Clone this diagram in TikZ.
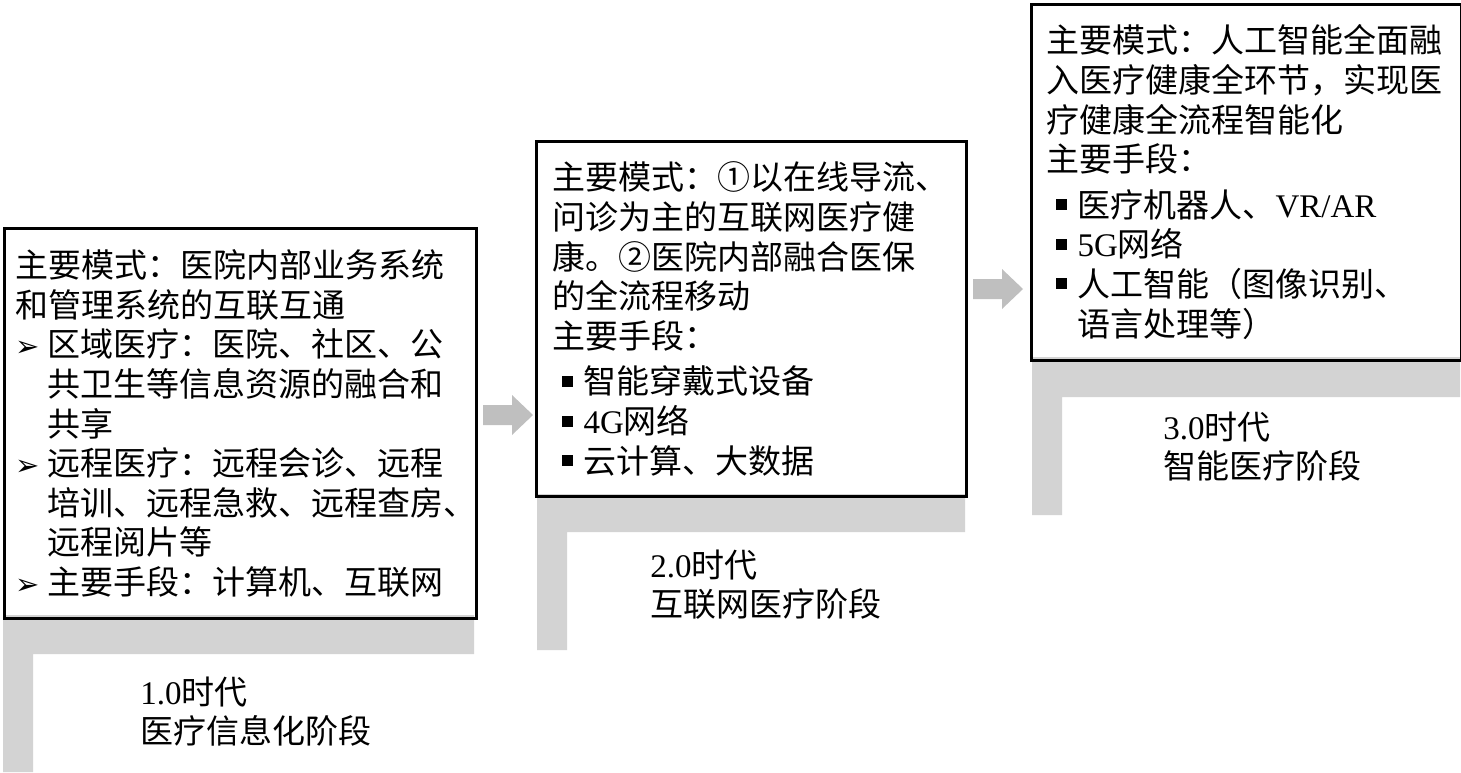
\documentclass[tikz,border=0pt]{standalone}
\usepackage{fontspec}
\setmainfont{Noto Sans CJK SC}
\newfontfamily\latin{Liberation Serif}
\newfontfamily\symfont{DejaVu Sans}
\definecolor{stepgrey}{HTML}{D3D3D3}
\definecolor{arrowgrey}{HTML}{BFBFBF}
\newcommand{\arr}{\makebox[16pt][l]{\symfont\fontsize{14.5pt}{14.5pt}\selectfont ➢}}
\newcommand{\ind}{\hspace*{16pt}}
\newcommand{\sq}{\hspace*{4.5pt}\rule[3.5pt]{5.5pt}{5.5pt}\hspace*{5.5pt}}
\newcommand{\sqind}{\hspace*{15.5pt}}
\tikzset{
    stagebox/.style={draw, line width=1.5pt, anchor=north west, align=left, inner ysep=0pt,
        font=\fontsize{16.5pt}{19.8pt}\selectfont},
    eralabel/.style={anchor=west, align=left, inner sep=0pt,
        font=\fontsize{16.5pt}{19.5pt}\selectfont},
    blockarrow/.pic={
        % shaft and head
        \fill[arrowgrey] (0,-10) -- (29,-10) -- (29,-20) -- (50,0) -- (29,20) -- (29,10) -- (0,10) -- cycle;
    }
}
\begin{document}
\begin{tikzpicture}[x=0.5pt,y=-0.5pt]
    \useasboundingbox (0,0) rectangle (1461,772);
    % grey steps
    \fill[stepgrey] (3,615) -- (474,615) -- (474,654) -- (33,654) -- (33,772) -- (3,772) -- cycle;
    \fill[stepgrey] (537,494) -- (965,494) -- (965,532) -- (567,532) -- (567,650) -- (537,650) -- cycle;
    \fill[stepgrey] (1032,357) -- (1460,357) -- (1460,397) -- (1062,397) -- (1062,515) -- (1032,515) -- cycle;

    % stage boxes
    \node[stagebox, text width=225pt, inner xsep=5.5pt, minimum height=195pt] (b1) at (3,227) {
        主要模式：医院内部业务系统\\
        和管理系统的互联互通\\
        \arr 区域医疗：医院、社区、公\\
        \ind 共卫生等信息资源的融合和\\
        \ind 共享\\
        \arr 远程医疗：远程会诊、远程\\
        \ind 培训、远程急救、远程查房、\\
        \ind 远程阅片等\\
        \arr 主要手段：计算机、互联网};
    \node[stagebox, text width=199pt, inner xsep=8pt, minimum height=177.5pt] (b2) at (535,140) {
        主要模式：①以在线导流、\\
        问诊为主的互联网医疗健\\
        康。②医院内部融合医保\\
        的全流程移动\\
        主要手段：\\[3pt]
        \sq 智能穿戴式设备\\
        \sq {\latin 4G}网络\\
        \sq 云计算、大数据};
    \node[stagebox, text width=200pt, inner xsep=7.5pt, minimum height=178pt] (b3) at (1030,2.5) {
        主要模式：人工智能全面融\\
        入医疗健康全环节，实现医\\
        疗健康全流程智能化\\
        主要手段：\\[3pt]
        \sq 医疗机器人、{\latin VR/AR}\\
        \sq {\latin 5G}网络\\
        \sq 人工智能（图像识别、\\
        \sqind 语言处理等）};

    \pic at (483,415) {blockarrow};
    \pic at (973,289) {blockarrow};

    % era labels
    \node[eralabel] (l1) at (140,712) {{\latin 1.0}时代\\医疗信息化阶段};
    \node[eralabel] (l2) at (650,585) {{\latin 2.0}时代\\互联网医疗阶段};
    \node[eralabel] (l3) at (1163,447) {{\latin 3.0}时代\\智能医疗阶段};
\end{tikzpicture}
\end{document}
